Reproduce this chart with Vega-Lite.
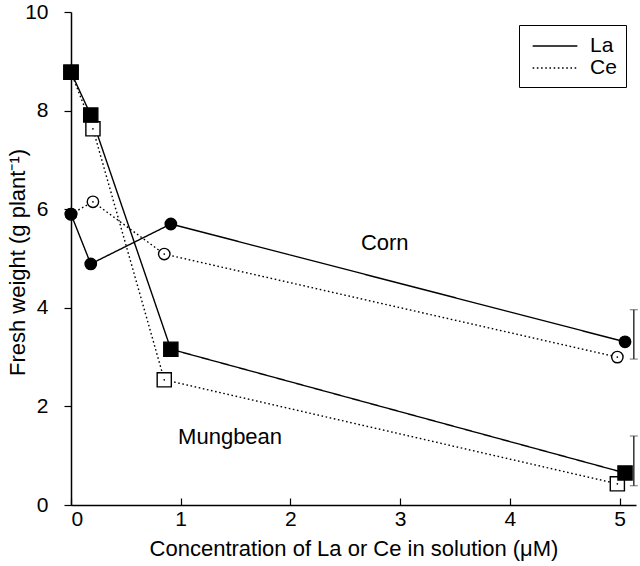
{
  "$schema": "https://vega.github.io/schema/vega-lite/v6.json",
  "autosize": "none",
  "width": 565,
  "height": 493,
  "padding": {"left": 71, "top": 12, "right": 4, "bottom": 61},
  "background": "white",
  "config": {
    "view": {"stroke": null},
    "font": "Liberation Sans",
    "axis": {"grid": false, "domainColor": "black", "domainWidth": 1.5, "tickColor": "black", "tickWidth": 1.2, "labelColor": "black", "titleColor": "black", "labelFontSize": 21, "titleFontSize": 22, "titleFontWeight": "normal", "labelFont": "Liberation Sans", "titleFont": "Liberation Sans"}
  },
  "datasets": {
    "pts": [
      {"crop": "Mungbean", "metal": "Ce", "conc": 0, "fw": 8.78},
      {"crop": "Mungbean", "metal": "Ce", "conc": 0.2, "fw": 7.63},
      {"crop": "Mungbean", "metal": "Ce", "conc": 0.85, "fw": 2.54},
      {"crop": "Mungbean", "metal": "Ce", "conc": 4.98, "fw": 0.43},
      {"crop": "Corn", "metal": "Ce", "conc": 0, "fw": 5.9},
      {"crop": "Corn", "metal": "Ce", "conc": 0.2, "fw": 6.15},
      {"crop": "Corn", "metal": "Ce", "conc": 0.85, "fw": 5.09},
      {"crop": "Corn", "metal": "Ce", "conc": 4.98, "fw": 3.0},
      {"crop": "Mungbean", "metal": "La", "conc": 0, "fw": 8.78},
      {"crop": "Mungbean", "metal": "La", "conc": 0.18, "fw": 7.91},
      {"crop": "Mungbean", "metal": "La", "conc": 0.91, "fw": 3.16},
      {"crop": "Mungbean", "metal": "La", "conc": 5.05, "fw": 0.65},
      {"crop": "Corn", "metal": "La", "conc": 0, "fw": 5.9},
      {"crop": "Corn", "metal": "La", "conc": 0.18, "fw": 4.89},
      {"crop": "Corn", "metal": "La", "conc": 0.91, "fw": 5.7},
      {"crop": "Corn", "metal": "La", "conc": 5.05, "fw": 3.31}
    ],
    "labels": [
      {"label": "Corn", "conc": 2.86, "fw": 5.31},
      {"label": "Mungbean", "conc": 1.45, "fw": 1.38}
    ],
    "bars": [
      {"crop": "Corn", "conc": 5.13, "lo": 2.96, "hi": 3.96},
      {"crop": "Mungbean", "conc": 5.13, "lo": 0.39, "hi": 1.4}
    ]
  },
  "encoding": {
    "x": {"field": "conc", "type": "quantitative", "scale": {"domain": [0, 5.15], "nice": false, "zero": false},
      "axis": {"title": "Concentration of La or Ce in solution (μM)", "values": [0, 1, 2, 3, 4, 5], "format": "d", "tickSize": -7, "labelPadding": 10, "titlePadding": 9}},
    "y": {"field": "fw", "type": "quantitative", "scale": {"domain": [0, 10], "nice": false},
      "axis": {"title": "Fresh weight (g plant⁻¹)", "values": [0, 2, 4, 6, 8, 10], "tickSize": 7, "labelPadding": 16, "titleX": -54, "titleY": 250, "titleBaseline": "middle", "titleAlign": "center", "titleAngle": -90}}
  },
  "layer": [
    {
      "data": {"name": "pts"},
      "mark": {"type": "line", "color": "black", "strokeWidth": 1.4},
      "encoding": {
        "detail": {"field": "crop"},
        "strokeDash": {"field": "metal", "type": "nominal",
          "scale": {"domain": ["La", "Ce"], "range": [[1, 0], [1.6, 2.6]]},
          "legend": {"title": null, "orient": "none", "legendX": 448, "legendY": 13, "strokeColor": "black", "padding": 9, "symbolOffset": 15, "symbolType": "M-2,0H2", "symbolSize": 500, "symbolStrokeWidth": 1.4, "symbolStrokeColor": "black", "symbolFillColor": "transparent", "labelFontSize": 21, "labelOffset": 23, "rowPadding": 0, "labelFont": "Liberation Sans", "labelColor": "black"}}
      }
    },
    {
      "data": {"name": "pts"},
      "mark": {"type": "point", "stroke": "black", "strokeWidth": 1.4, "opacity": 1},
      "encoding": {
        "shape": {"field": "crop", "type": "nominal", "scale": {"domain": ["Mungbean", "Corn"], "range": ["square", "circle"]}, "legend": null},
        "size": {"field": "crop", "type": "nominal", "scale": {"domain": ["Mungbean", "Corn"], "range": [200, 130]}, "legend": null},
        "fill": {"field": "metal", "type": "nominal", "scale": {"domain": ["La", "Ce"], "range": ["black", "white"]}, "legend": null}
      }
    },
    {
      "data": {"name": "pts"},
      "transform": [{"filter": "datum.metal === 'Ce' && datum.conc > 0"}],
      "mark": {"type": "circle", "color": "black", "size": 3, "opacity": 1}
    },
    {
      "data": {"name": "labels"},
      "mark": {"type": "text", "fontSize": 22, "font": "Liberation Sans", "color": "black"},
      "encoding": {"text": {"field": "label"}}
    },
    {
      "data": {"name": "bars"},
      "mark": {"type": "errorbar", "ticks": {"size": 8, "color": "#333"}, "rule": {"color": "#333", "strokeWidth": 1.5}},
      "encoding": {
        "y": {"field": "lo", "type": "quantitative"},
        "y2": {"field": "hi"}
      }
    }
  ]
}
